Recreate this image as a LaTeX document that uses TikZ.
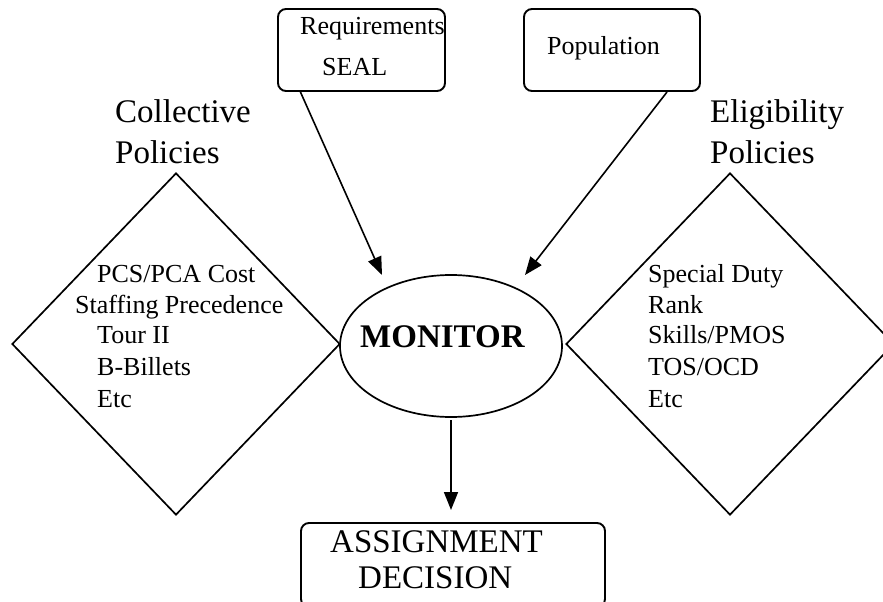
\documentclass[tikz,border=0pt]{standalone}
\usepackage{fontspec}
\setmainfont{Liberation Serif}
\usetikzlibrary{shapes.geometric,arrows.meta}
\begin{document}
\begin{tikzpicture}[x=1pt,y=-1pt,
  txt/.style={inner sep=0pt, anchor=base west, font=\fontsize{26}{31}\selectfont},
  big/.style={inner sep=0pt, anchor=base west, font=\fontsize{33}{40}\selectfont},
  box/.style={draw, line width=1.9pt, rounded corners=8pt, inner sep=0pt},
  arr/.style={line width=1.6pt, -{Triangle[width=14pt,length=18pt]}},
  dia/.style={draw, diamond, line width=1.7pt, inner sep=0pt, minimum width=328pt, minimum height=342pt},
]
\useasboundingbox (0,0) rectangle (883,602);
\clip (0,0) rectangle (883,602);

% diamonds
\node[dia] (cdia) at (176,344) {};
\node[dia] (edia) at (730,344) {};

% ellipse
\node[draw, ellipse, line width=1.7pt, minimum width=222pt, minimum height=142pt, inner sep=0pt] (mon) at (451,346) {};
\node[inner sep=0pt, anchor=base west, font=\fontsize{33}{40}\selectfont\bfseries] (montxt) at (360,347) {MONITOR};

% boxes
\node[box, minimum width=167pt, minimum height=82pt] (req) at (361.5,50) {};
\node[box, minimum width=176pt, minimum height=82pt] (pop) at (612,50) {};
\node[box, minimum width=304pt, minimum height=84pt] (asg) at (453,565) {};

\node[txt] (reqt1) at (300,35) {Requirements};
\node[txt] (reqt2) at (322,75) {SEAL};
\node[txt] (popt) at (547,55) {Population};
\node[big] (asgt1) at (330,552) {ASSIGNMENT};
\node[big] (asgt2) at (358,588) {DECISION};

% policy labels
\node[big] (cl1) at (115,122) {Collective};
\node[big] (cl2) at (115,163) {Policies};
\node[big] (el1) at (710,122) {Eligibility};
\node[big] (el2) at (710,163) {Policies};

% left diamond text
\node[txt] (c1) at (97,282) {PCS/PCA Cost};
\node[txt] (c2) at (75,313) {Staffing Precedence};
\node[txt] (c3) at (97,343) {Tour II};
\node[txt] (c4) at (97,375) {B-Billets};
\node[txt] (c5) at (97,407) {Etc};

% right diamond text
\node[txt] (e1) at (648,282) {Special Duty};
\node[txt] (e2) at (648,313) {Rank};
\node[txt] (e3) at (648,343) {Skills/PMOS};
\node[txt] (e4) at (648,375) {TOS/OCD};
\node[txt] (e5) at (648,407) {Etc};

% connectors
\coordinate (r1) at (300,91);
\coordinate (r2) at (382,275);
\coordinate (p1) at (667,92);
\coordinate (p2) at (525,275);
\coordinate (m1) at (451,420);
\coordinate (m2) at (451,510);
\draw[arr] (r1) -- (r2);
\draw[arr] (p1) -- (p2);
\draw[arr] (m1) -- (m2);
\end{tikzpicture}
\end{document}
